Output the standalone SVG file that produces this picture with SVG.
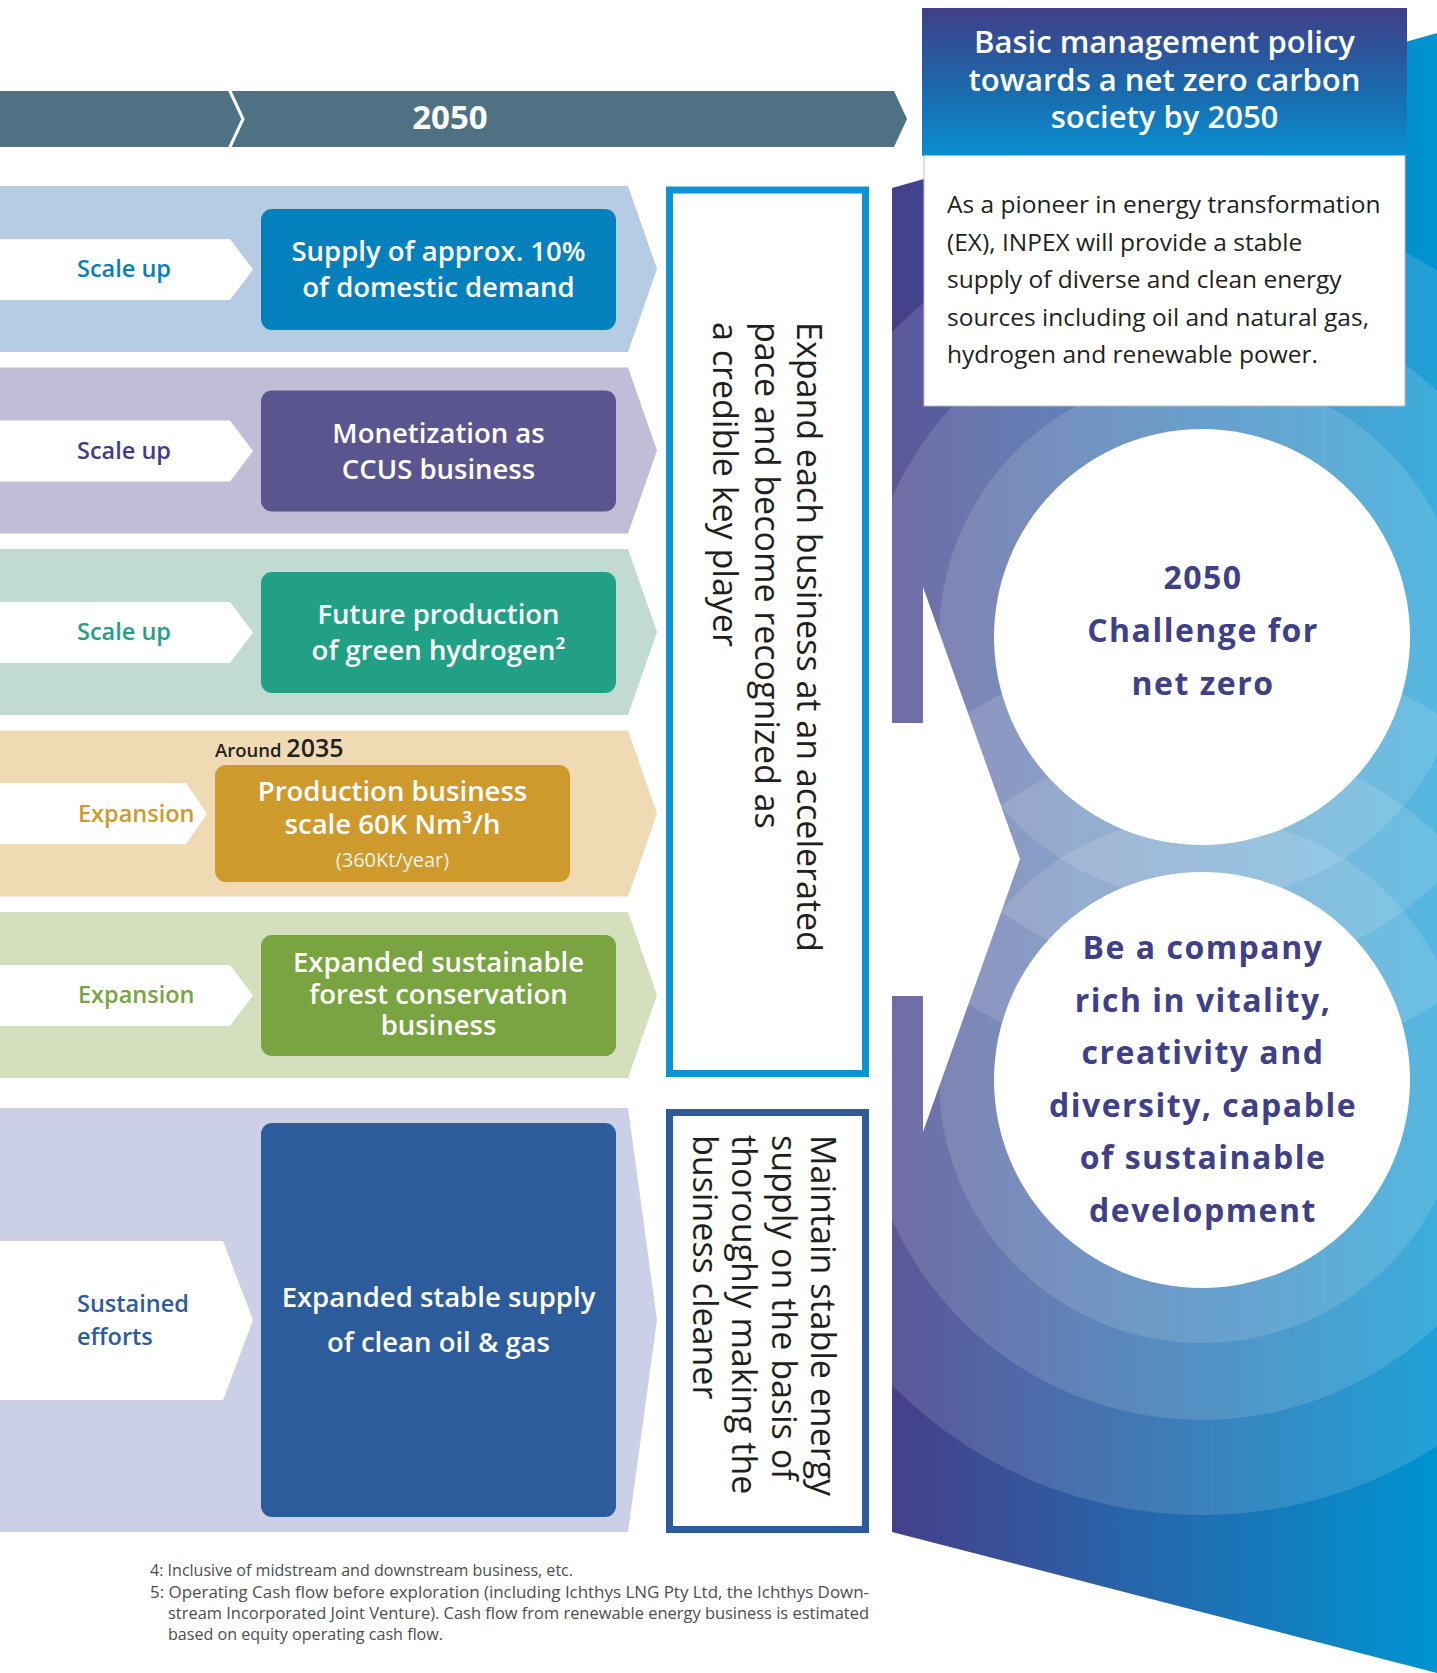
<svg xmlns="http://www.w3.org/2000/svg" width="1437" height="1673" viewBox="0 0 1437 1673">
<defs>
<linearGradient id="bgGrad" x1="892" y1="0" x2="1437" y2="0" gradientUnits="userSpaceOnUse">
<stop offset="0" stop-color="#463f8a"/>
<stop offset="1" stop-color="#0094d1"/>
</linearGradient>
<linearGradient id="hdrGrad" x1="0" y1="0" x2="0" y2="1">
<stop offset="0" stop-color="#3f3f87"/>
<stop offset="0.55" stop-color="#1b69ad"/>
<stop offset="1" stop-color="#078fcf"/>
</linearGradient>
<clipPath id="bgClip"><polygon points="892,188 1437,33 1437,1673 892,1532"/></clipPath>
</defs>
<style>
.lbl{font-family:"Open Sans","Lato",sans-serif;font-weight:600;font-size:23.5px}
.box{font-family:"Open Sans","Lato",sans-serif;font-weight:600;font-size:27.5px;fill:#fff;text-anchor:middle}
.vt{font-family:"Open Sans","Lato",sans-serif;font-size:34px;fill:#231f20}
.circ{font-family:"Open Sans","Lato",sans-serif;font-weight:700;font-size:32px;fill:#3f3f8a;text-anchor:middle;letter-spacing:1.5px}
.hdr{font-family:"Open Sans","Lato",sans-serif;font-weight:600;font-size:31px;fill:#fff;text-anchor:middle}
.body{font-family:"Open Sans","Lato",sans-serif;font-size:24.5px;fill:#231f20}
.fn{font-family:"Open Sans","Lato",sans-serif;font-size:16px;fill:#4d4d4d}
.white{fill:#fff}
.ring{fill:#fff;fill-opacity:0.13}
</style>
<rect width="1437" height="1673" fill="#fff"/>

<!-- right background -->
<g id="background">
<polygon points="892,188 1437,33 1437,1673 892,1532" fill="url(#bgGrad)"/>
<g clip-path="url(#bgClip)">
<circle class="ring" cx="1202" cy="637" r="435"/>
<circle class="ring" cx="1202" cy="637" r="340"/>
<circle class="ring" cx="1202" cy="637" r="263"/>
<circle class="ring" cx="1202" cy="1080" r="435"/>
<circle class="ring" cx="1202" cy="1080" r="340"/>
<circle class="ring" cx="1202" cy="1080" r="263"/>
</g>
<polygon class="white" points="888,723 923,723 923,587 1020,859 923,1132 923,996 888,996"/>
</g>

<!-- timeline banner -->
<g id="banner">
<polygon points="0,91 894,91 907,119 894,147 0,147" fill="#4e7283"/>
<polyline points="229,89 243,119 229,149" fill="none" stroke="#fff" stroke-width="3"/>
<text x="450" y="129" font-family="Open Sans, Lato, sans-serif" font-weight="700" font-size="33" fill="#fff" text-anchor="middle">2050</text>
</g>

<!-- row 1 -->
<g id="row-hydrogen-ammonia">
<polygon points="0,186 628,186 657,269 628,352 0,352" fill="#b5cce4"/>
<polygon class="white" points="0,239 230,239 253,269.5 230,300 0,300"/>
<text class="lbl" x="77" y="277" fill="#0480bd">Scale up</text>
<rect x="261" y="209" width="355" height="121" rx="11" fill="#0480bd"/>
<text class="box" x="438.5" y="261">Supply of approx. 10%</text>
<text class="box" x="438.5" y="297">of domestic demand</text>
</g>

<!-- row 2 -->
<g id="row-ccus">
<polygon points="0,367.5 628,367.5 657,450.5 628,533.5 0,533.5" fill="#c1bdd6"/>
<polygon class="white" points="0,420.5 230,420.5 253,451 230,481.5 0,481.5"/>
<text class="lbl" x="77" y="458.5" fill="#433d86">Scale up</text>
<rect x="261" y="390.5" width="355" height="121" rx="11" fill="#5b558f"/>
<text class="box" x="438.5" y="442.5">Monetization as</text>
<text class="box" x="438.5" y="478.5">CCUS business</text>
</g>

<!-- row 3 -->
<g id="row-green-hydrogen">
<polygon points="0,549 628,549 657,632 628,715 0,715" fill="#c1dbd2"/>
<polygon class="white" points="0,602 230,602 253,632.5 230,663 0,663"/>
<text class="lbl" x="77" y="640" fill="#22a085">Scale up</text>
<rect x="261" y="572" width="355" height="121" rx="11" fill="#22a085"/>
<text class="box" x="438.5" y="624">Future production</text>
<text class="box" x="438.5" y="660">of green hydrogen²</text>
</g>

<!-- row 4 -->
<g id="row-production">
<polygon points="0,730.5 628,730.5 657,813.5 628,896.5 0,896.5" fill="#f0dab4"/>
<polygon class="white" points="0,783 186,783 207,813.5 186,844 0,844"/>
<text class="lbl" x="78" y="821.5" fill="#cf9a2c">Expansion</text>
<text x="215" y="757" font-family="Open Sans, Lato, sans-serif" font-weight="600" font-size="18.5" fill="#231f20">Around <tspan font-size="25">2035</tspan></text>
<rect x="215" y="765" width="355" height="117" rx="11" fill="#cf9a2c"/>
<text class="box" x="392.5" y="801">Production business</text>
<text class="box" x="392.5" y="834">scale 60K Nm³/h</text>
<text x="392.5" y="867" font-family="Open Sans, Lato, sans-serif" font-size="20" fill="#fff" fill-opacity="0.92" text-anchor="middle">(360Kt/year)</text>
</g>

<!-- row 5 -->
<g id="row-forest">
<polygon points="0,912 628,912 657,995 628,1078 0,1078" fill="#d4dfbd"/>
<polygon class="white" points="0,965 230,965 253,995.5 230,1026 0,1026"/>
<text class="lbl" x="78" y="1003" fill="#79a441">Expansion</text>
<rect x="261" y="935" width="355" height="121" rx="11" fill="#79a441"/>
<text class="box" x="438.5" y="972">Expanded sustainable</text>
<text class="box" x="438.5" y="1003.5">forest conservation</text>
<text class="box" x="438.5" y="1035">business</text>
</g>

<!-- row 6 -->
<g id="row-oil-gas">
<polygon points="0,1108 628,1108 657,1320 628,1532 0,1532" fill="#cbd0e6"/>
<polygon class="white" points="0,1241 223,1241 253,1320 223,1400 0,1400"/>
<text class="lbl" x="77" y="1312" fill="#2c5c9c">Sustained</text>
<text class="lbl" x="77" y="1345" fill="#2c5c9c">efforts</text>
<rect x="261" y="1123" width="355" height="394" rx="11" fill="#2c5c9c"/>
<text class="box" x="438.5" y="1307">Expanded stable supply</text>
<text class="box" x="438.5" y="1352">of clean oil &amp; gas</text>
</g>

<!-- vertical box A -->
<g id="goal-expand">
<rect x="669.5" y="190" width="196" height="883.5" fill="#fff" stroke="#0e93d0" stroke-width="7"/>
<text class="vt" transform="translate(797,322) rotate(90)">Expand each business at an accelerated</text>
<text class="vt" transform="translate(755,322) rotate(90)">pace and become recognized as</text>
<text class="vt" transform="translate(713,322) rotate(90)">a credible key player</text>
</g>

<!-- vertical box B -->
<g id="goal-maintain">
<rect x="669.5" y="1112.5" width="196" height="417" fill="#fff" stroke="#2c5c9c" stroke-width="7"/>
<text class="vt" transform="translate(811,1135) rotate(90)">Maintain stable energy</text>
<text class="vt" transform="translate(772,1135) rotate(90)">supply on the basis of</text>
<text class="vt" transform="translate(732,1135) rotate(90)">thoroughly making the</text>
<text class="vt" transform="translate(693,1135) rotate(90)">business cleaner</text>
</g>

<!-- circle 1 -->
<g id="circle-net-zero">
<circle cx="1202" cy="637" r="208" fill="#fff"/>
<text class="circ" x="1203" y="589" font-size="36">2050</text>
<text class="circ" x="1203" y="642">Challenge for</text>
<text class="circ" x="1203" y="695">net zero</text>
</g>

<!-- circle 2 -->
<g id="circle-company">
<circle cx="1202" cy="1080" r="208" fill="#fff"/>
<text class="circ" x="1203" y="959">Be a company</text>
<text class="circ" x="1203" y="1012">rich in vitality,</text>
<text class="circ" x="1203" y="1064">creativity and</text>
<text class="circ" x="1203" y="1117">diversity, capable</text>
<text class="circ" x="1203" y="1169">of sustainable</text>
<text class="circ" x="1203" y="1222">development</text>
</g>

<!-- policy header -->
<g id="policy">
<rect x="922" y="8" width="485" height="148" fill="url(#hdrGrad)"/>
<text class="hdr" x="1164.5" y="53">Basic management policy</text>
<text class="hdr" x="1164.5" y="91">towards a net zero carbon</text>
<text class="hdr" x="1164.5" y="128">society by 2050</text>
<rect x="924" y="155.5" width="481" height="250.5" fill="#fff" stroke="#b9bdc9" stroke-width="1"/>
<text class="body" x="947" y="213">As a pioneer in energy transformation</text>
<text class="body" x="947" y="251">(EX), INPEX will provide a stable</text>
<text class="body" x="947" y="288">supply of diverse and clean energy</text>
<text class="body" x="947" y="326">sources including oil and natural gas,</text>
<text class="body" x="947" y="363">hydrogen and renewable power.</text>
</g>

<g id="connectors"/>

<!-- footnotes -->
<g id="footnotes">
<text class="fn" x="150" y="1576" textLength="423" lengthAdjust="spacingAndGlyphs">4: Inclusive of midstream and downstream business, etc.</text>
<text class="fn" x="150" y="1598" textLength="719" lengthAdjust="spacingAndGlyphs">5: Operating Cash flow before exploration (including Ichthys LNG Pty Ltd, the Ichthys Down-</text>
<text class="fn" x="168" y="1619" textLength="701" lengthAdjust="spacingAndGlyphs">stream Incorporated Joint Venture). Cash flow from renewable energy business is estimated</text>
<text class="fn" x="168" y="1640" textLength="275" lengthAdjust="spacingAndGlyphs">based on equity operating cash flow.</text>
</g>
</svg>
